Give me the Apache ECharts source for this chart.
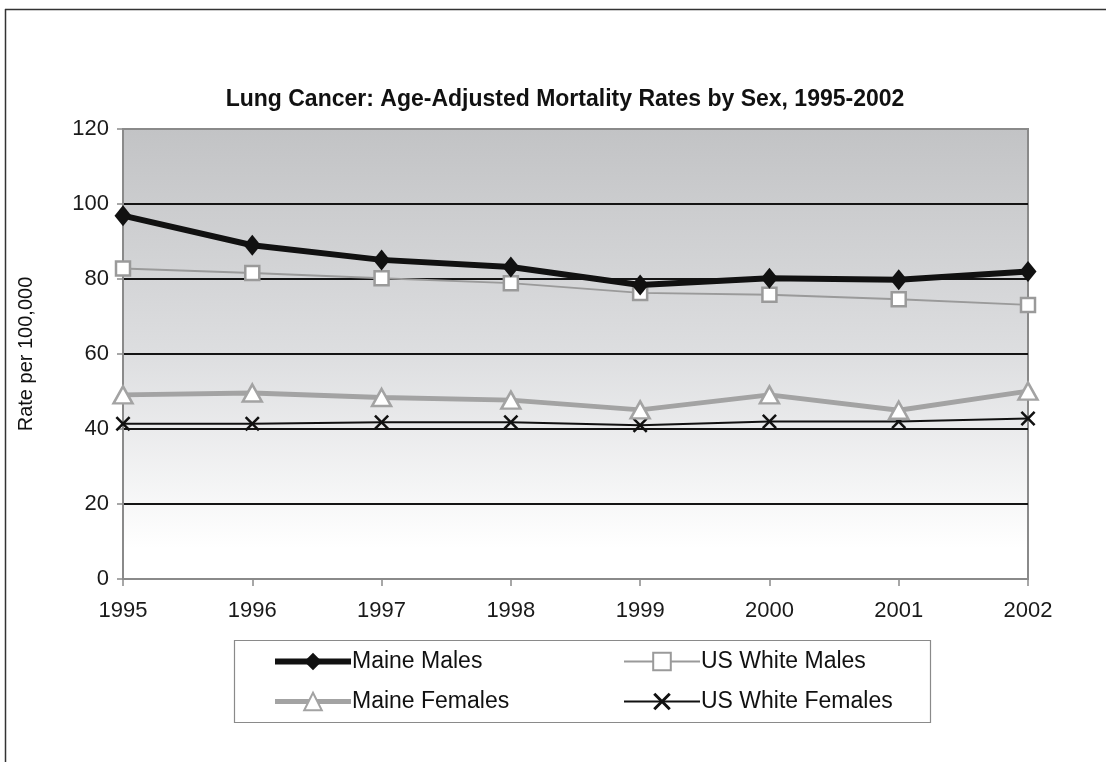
<!DOCTYPE html>
<html>
<head>
<meta charset="utf-8">
<title>Lung Cancer Mortality</title>
<script src="https://cdn.jsdelivr.net/npm/echarts@6/dist/echarts.min.js"></script>
<style>
  html, body { margin: 0; padding: 0; background: #fff; }
  #chart { width: 1106px; height: 762px; }
</style>
</head>
<body>
<div id="chart"></div>
<script>
// Age-adjusted lung cancer mortality, rate per 100,000
const years = ['1995', '1996', '1997', '1998', '1999', '2000', '2001', '2002'];
const maineMales = [96.9, 89.0, 85.1, 83.2, 78.4, 80.2, 79.8, 82.0];
const usWhiteMales = [82.8, 81.6, 80.2, 78.9, 76.3, 75.8, 74.6, 73.1];
const maineFemales = [49.1, 49.6, 48.4, 47.7, 45.1, 49.1, 45.0, 50.1];
const usWhiteFemales = [41.4, 41.4, 41.8, 41.8, 41.0, 42.0, 42.0, 42.8];
const yTicks = { min: 0, max: 120, step: 20 };

const FONT = '"Liberation Sans", Arial, Helvetica, sans-serif';
// X-shaped marker drawn as a filled outline
const CROSS = 'path://M0,1.2L1.2,0L5,3.8L8.8,0L10,1.2L6.2,5L10,8.8L8.8,10L5,6.2L1.2,10L0,8.8L3.8,5Z';

const chart = echarts.init(document.getElementById('chart'), null, { renderer: 'canvas' });

const legendCommon = {
  orient: 'vertical',
  top: 650,
  itemWidth: 76,
  itemHeight: 22,
  itemGap: 17,
  padding: 0,
  textStyle: { fontFamily: FONT, fontSize: 23, color: '#111', padding: [0, 0, 0, -4] }
};

chart.setOption({
  animation: false,
  backgroundColor: '#fff',
  textStyle: { fontFamily: FONT },
  title: {
    text: 'Lung Cancer: Age-Adjusted Mortality Rates by Sex, 1995-2002',
    left: 560,
    top: 83,
    textAlign: 'center',
    textStyle: { fontFamily: FONT, fontSize: 23, fontWeight: 'bold', color: '#111' }
  },
  legend: [
    Object.assign({
      left: 272,
      data: [
        { name: 'Maine Males', lineStyle: { width: 6, color: '#111' } },
        { name: 'Maine Females', lineStyle: { width: 5, color: '#a3a3a3' } }
      ]
    }, legendCommon),
    Object.assign({
      left: 623,
      data: [
        { name: 'US White Males', lineStyle: { width: 2, color: '#9a9a9a' } },
        { name: 'US White Females', lineStyle: { width: 2, color: '#111' } }
      ]
    }, legendCommon)
  ],
  grid: {
    left: 123,
    right: 78,
    top: 129,
    bottom: 183,
    show: true,
    borderColor: '#8a8a8a',
    borderWidth: 2,
    backgroundColor: new echarts.graphic.LinearGradient(0, 0, 0, 1, [
      { offset: 0, color: '#c2c3c5' },
      { offset: 0.5, color: '#dddee0' },
      { offset: 0.93, color: '#ffffff' },
      { offset: 1, color: '#ffffff' }
    ])
  },
  xAxis: {
    type: 'category',
    data: years,
    boundaryGap: false,
    axisLine: { lineStyle: { color: '#8a8a8a', width: 2 } },
    axisTick: { show: true, length: 7, lineStyle: { color: '#8a8a8a', width: 1.5 } },
    axisLabel: { fontFamily: FONT, fontSize: 22, color: '#1a1a1a', margin: 21 },
    splitLine: { show: false }
  },
  yAxis: {
    type: 'value',
    min: yTicks.min,
    max: yTicks.max,
    interval: yTicks.step,
    name: 'Rate per 100,000',
    nameLocation: 'middle',
    nameRotate: 90,
    nameGap: 87,
    nameTextStyle: { fontFamily: FONT, fontSize: 20, color: '#111' },
    axisLine: { show: true, lineStyle: { color: '#8a8a8a', width: 2 } },
    axisTick: { show: true, length: 6, lineStyle: { color: '#8a8a8a', width: 1.5 } },
    axisLabel: { fontFamily: FONT, fontSize: 22, color: '#1a1a1a', margin: 14 },
    splitLine: {
      show: true,
      showMinLine: false,
      showMaxLine: false,
      lineStyle: { color: '#141414', width: 2 }
    }
  },
  series: [
    {
      name: 'Maine Males',
      type: 'line',
      data: maineMales,
      symbol: 'diamond',
      symbolSize: [17, 21],
      lineStyle: { color: '#111', width: 6 },
      itemStyle: { color: '#111' },
      z: 5
    },
    {
      name: 'US White Males',
      type: 'line',
      data: usWhiteMales,
      symbol: 'rect',
      symbolSize: 14,
      lineStyle: { color: '#9a9a9a', width: 2 },
      itemStyle: { color: '#ffffff', borderColor: '#9a9a9a', borderWidth: 2.5 },
      z: 4
    },
    {
      name: 'Maine Females',
      type: 'line',
      data: maineFemales,
      symbol: 'triangle',
      symbolSize: [19, 17],
      lineStyle: { color: '#a3a3a3', width: 5 },
      itemStyle: { color: '#ffffff', borderColor: '#a3a3a3', borderWidth: 2.5 },
      z: 3
    },
    {
      name: 'US White Females',
      type: 'line',
      data: usWhiteFemales,
      symbol: CROSS,
      symbolSize: 15,
      lineStyle: { color: '#111', width: 2 },
      itemStyle: { color: '#111' },
      z: 2
    }
  ],
  graphic: [
    // outer frame edges
    { type: 'line', shape: { x1: 5, y1: 9.5, x2: 1106, y2: 9.5 }, style: { stroke: '#333', lineWidth: 1.5 }, silent: true },
    { type: 'line', shape: { x1: 5.5, y1: 9, x2: 5.5, y2: 762 }, style: { stroke: '#333', lineWidth: 1.5 }, silent: true },
    // legend box
    { type: 'rect', shape: { x: 234.5, y: 640.5, width: 696, height: 82 }, style: { fill: 'none', stroke: '#8a8a8a', lineWidth: 1.2 }, silent: true, z: -1 }
  ]
});
</script>
</body>
</html>
